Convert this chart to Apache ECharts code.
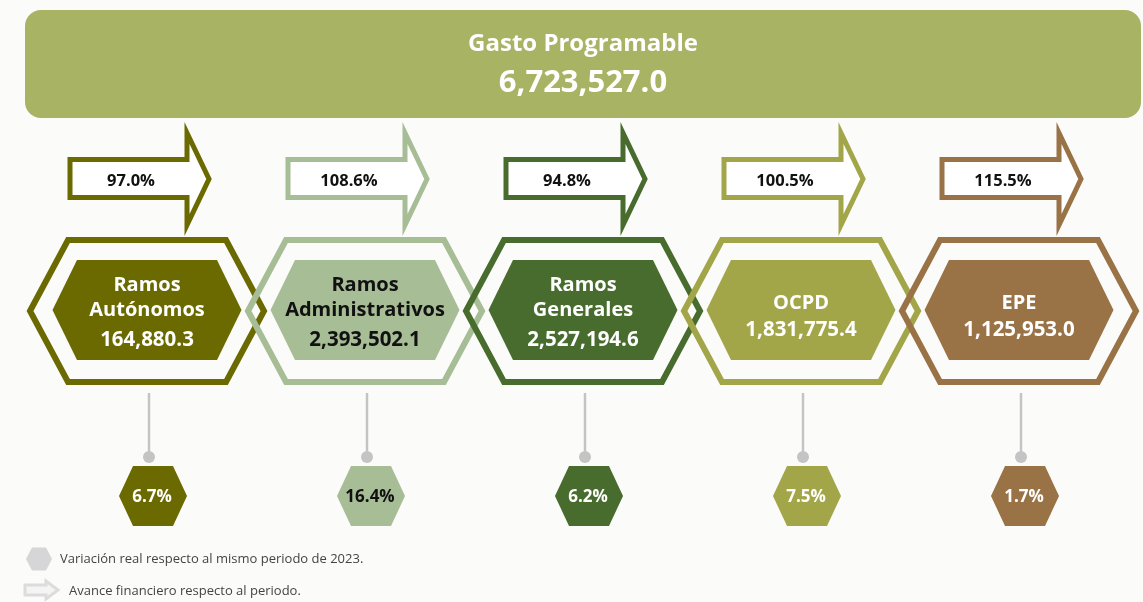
<!DOCTYPE html>
<html>
<head>
<meta charset="utf-8">
<script src="https://cdn.jsdelivr.net/npm/echarts@6/dist/echarts.min.js"></script>
<style>
  html, body { margin: 0; padding: 0; background: #fbfbfa; }
  #gasto-chart { width: 1143px; height: 602px; }
</style>
</head>
<body>
<div id="gasto-chart"></div>
<script>
// datos (millones de pesos)
var total = 6723527.0;
var categories = ['Ramos\nAutónomos', 'Ramos\nAdministrativos', 'Ramos\nGenerales', 'OCPD', 'EPE'];
var amounts = [164880.3, 2393502.1, 2527194.6, 1831775.4, 1125953.0];
var avance = [97.0, 108.6, 94.8, 100.5, 115.5];      // avance financiero, %
var variacion = [6.7, 16.4, 6.2, 7.5, 1.7];          // variación real, %

var colors = ['#6b6a00', '#a6bd96', '#476c2d', '#a3a648', '#997246'];
var textColors = ['#ffffff', '#111111', '#ffffff', '#ffffff', '#ffffff'];
var FONT = '"Open Sans", sans-serif';

function fmt(v) {
  return v.toLocaleString('en-US', {minimumFractionDigits: 1, maximumFractionDigits: 1});
}

function hex(cx, cy, hw, hh, inset) {
  return [
    [cx - hw, cy], [cx - hw + inset, cy - hh], [cx + hw - inset, cy - hh],
    [cx + hw, cy], [cx + hw - inset, cy + hh], [cx - hw + inset, cy + hh]
  ];
}

var myChart = echarts.init(document.getElementById('gasto-chart'));

var seriesData = categories.map(function (c, i) {
  return [i, amounts[i], avance[i], variacion[i]];
});

var option = {
  backgroundColor: '#fbfbfa',
  animation: false,
  grid: {left: 38, right: 15, top: 0, bottom: 0},
  xAxis: {type: 'category', data: categories, show: false},
  yAxis: {type: 'value', min: 0, max: 602, inverse: true, show: false},
  graphic: [
    { // banner superior
      type: 'rect',
      shape: {x: 25, y: 10, width: 1116, height: 108, r: 16},
      style: {fill: '#a8b364'}
    },
    {
      type: 'text',
      style: {text: 'Gasto Programable', x: 583, y: 44, align: 'center', verticalAlign: 'middle',
        fill: '#fff', font: 'bold 24px ' + FONT}
    },
    {
      type: 'text',
      style: {text: fmt(total), x: 583, y: 83, align: 'center', verticalAlign: 'middle',
        fill: '#fff', font: 'bold 31px ' + FONT}
    },
    // leyenda
    {
      type: 'polygon',
      shape: {points: hex(39, 559, 13, 11.5, 6)},
      style: {fill: '#d6d6d6'}
    },
    {
      type: 'text',
      style: {text: 'Variación real respecto al mismo periodo de 2023.', x: 60, y: 559,
        verticalAlign: 'middle', fill: '#444', font: '13px ' + FONT}
    },
    {
      type: 'polygon',
      shape: {points: [[25, 585], [46, 585], [46, 581], [58, 590], [46, 599], [46, 595], [25, 595]]},
      style: {fill: '#f4f4f4', stroke: '#dcdcdc', lineWidth: 3, lineJoin: 'miter'}
    },
    {
      type: 'text',
      style: {text: 'Avance financiero respecto al periodo.', x: 69, y: 591,
        verticalAlign: 'middle', fill: '#444', font: '13px ' + FONT}
    }
  ],
  series: [{
    type: 'custom',
    data: seriesData,
    renderItem: function (params, api) {
      var i = api.value(0);
      var cx = api.coord([i, 0])[0];
      var yy = function (v) { return api.coord([i, v])[1]; };
      var col = colors[i];
      var tcol = textColors[i];
      var name = categories[i];
      var twoLines = name.indexOf('\n') >= 0;

      return {
        type: 'group',
        children: [
          { // flecha de avance
            type: 'polygon',
            shape: {points: [
              [cx - 77, yy(159.5)], [cx + 40, yy(159.5)], [cx + 40, yy(133)], [cx + 62, yy(179)],
              [cx + 40, yy(225)], [cx + 40, yy(197.5)], [cx - 77, yy(197.5)]
            ]},
            style: {fill: 'rgba(255,255,255,0.85)', stroke: col, lineWidth: 5, lineJoin: 'miter'}
          },
          {
            type: 'text',
            style: {text: fmt(api.value(2)) + '%', x: cx - 16, y: yy(181), align: 'center',
              verticalAlign: 'middle', fill: '#111', font: 'bold 16.5px ' + FONT}
          },
          { // hexágono exterior
            type: 'polygon',
            shape: {points: hex(cx, yy(311), 117, 71, 38)},
            style: {fill: 'none', stroke: col, lineWidth: 6, lineJoin: 'miter'}
          },
          { // hexágono interior
            type: 'polygon',
            shape: {points: hex(cx, yy(310), 94.5, 50, 24.5)},
            style: {fill: col}
          },
          {
            type: 'text',
            style: {text: name, x: cx, y: yy(twoLines ? 297.5 : 303), align: 'center',
              verticalAlign: 'middle', lineHeight: 25, fill: tcol, font: 'bold 20px ' + FONT}
          },
          {
            type: 'text',
            style: {text: fmt(api.value(1)), x: cx, y: yy(twoLines ? 340 : 330), align: 'center',
              verticalAlign: 'middle', fill: tcol, font: 'bold 20.5px ' + FONT}
          },
          { // conector
            type: 'line',
            shape: {x1: cx + 2, y1: yy(393), x2: cx + 2, y2: yy(455)},
            style: {stroke: '#c4c4c4', lineWidth: 2.5}
          },
          {
            type: 'circle',
            shape: {cx: cx + 2, cy: yy(457), r: 6},
            style: {fill: '#c4c4c4'}
          },
          { // variación real
            type: 'polygon',
            shape: {points: hex(cx + 6, yy(496), 34, 30, 14)},
            style: {fill: col}
          },
          {
            type: 'text',
            style: {text: fmt(api.value(3)) + '%', x: cx + 5, y: yy(497), align: 'center',
              verticalAlign: 'middle', fill: tcol, font: 'bold 17px ' + FONT}
          }
        ]
      };
    }
  }]
};

myChart.setOption(option);
</script>
</body>
</html>
